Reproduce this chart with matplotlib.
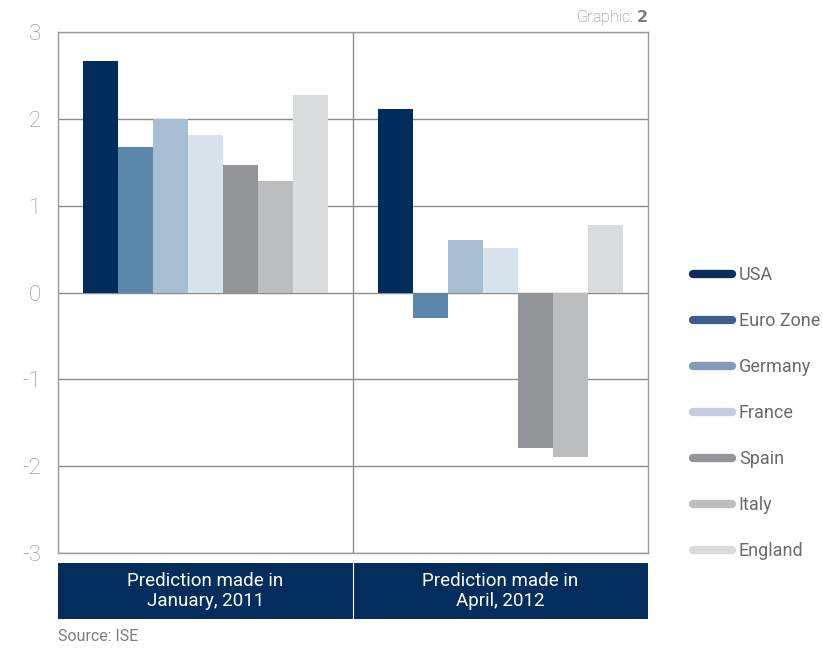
import numpy as np
import matplotlib
matplotlib.use("Agg")
import matplotlib.pyplot as plt
from matplotlib.lines import Line2D

plt.rcParams['font.family'] = ['Roboto', 'DejaVu Sans']
plt.rcParams['font.weight'] = 'light'
plt.rcParams['axes.unicode_minus'] = False

countries = ['USA', 'Euro Zone', 'Germany', 'France', 'Spain', 'Italy', 'England']
periods = ['Prediction made in\nJanuary, 2011', 'Prediction made in\nApril, 2012']
jan_2011 = [2.67, 1.68, 2.00, 1.81, 1.47, 1.28, 2.28]
apr_2012 = [2.11, -0.29, 0.60, 0.51, -1.79, -1.89, 0.78]

bar_colors = ['#002d5b', '#5b88ab', '#a8bfd3', '#d9e3ec', '#939498', '#bcbdbf', '#dadbdd']
legend_colors = ['#0b2f5c', '#3e5f8a', '#8799b8', '#c3cde0', '#939498', '#bcbdbf', '#dadbdd']
navy = '#022d5c'
grid_gray = '#8c8c8c'
text_gray = '#7e7e7e'

fig = plt.figure(figsize=(8.23, 6.48), dpi=100)
ax = fig.add_axes([0.0705, 0.1466, 0.7169, 0.804])

n = len(countries)
width = 0.83 / n
groups = np.arange(len(periods))
values = np.array([jan_2011, apr_2012])
for i in range(n):
    x = groups - 0.415 + width * (i + 0.5)
    ax.bar(x, values[:, i], width=width, color=bar_colors[i], zorder=3)

ax.set_xlim(-0.5, 1.5)
ax.set_ylim(-3, 3)
ax.set_yticks(range(-3, 4))
ax.set_xticks([])
ax.grid(axis='y', color=grid_gray, lw=1, zorder=1)
ax.axvline(0.5, color=grid_gray, lw=1, zorder=1)
ax.tick_params(axis='y', length=0, pad=12, labelsize=16, labelcolor='#8c8c8c')
for s in ax.spines.values():
    s.set_color('#9a9a9a')
    s.set_linewidth(1)

# navy band with period labels under the plot
band = fig.add_axes([0.0705, 0.0448, 0.7169, 0.0864])
band.set_facecolor(navy)
band.set_xlim(0, 2)
band.set_ylim(0, 1)
band.set_xticks([])
band.set_yticks([])
for s in band.spines.values():
    s.set_visible(False)
band.axvline(1, color='white', lw=0.8)
for g, label in enumerate(periods):
    band.text(g + 0.5, 0.5, label, color='white', ha='center', va='center',
              fontsize=13.5, linespacing=1.1, fontweight='normal')

handles = [Line2D([], [], color=c, lw=6, solid_capstyle='round') for c in legend_colors]
leg = fig.legend(handles, countries, loc='upper left', bbox_to_anchor=(0.822, 0.614),
                 frameon=False, fontsize=13, handlelength=2.2, handletextpad=0.35,
                 labelspacing=1.55)
for t in leg.get_texts():
    t.set_color('#6a6a6a')
    t.set_fontweight('normal')

fig.text(0.7874, 0.973, 'Graphic: $\\bf{2}$', ha='right', va='center', fontsize=11.5,
         color=text_gray)
fig.text(0.0705, 0.018, 'Source: ISE', ha='left', va='center', fontsize=11.5,
         color=text_gray, fontweight='normal')

fig.savefig('out.png', dpi=100)
